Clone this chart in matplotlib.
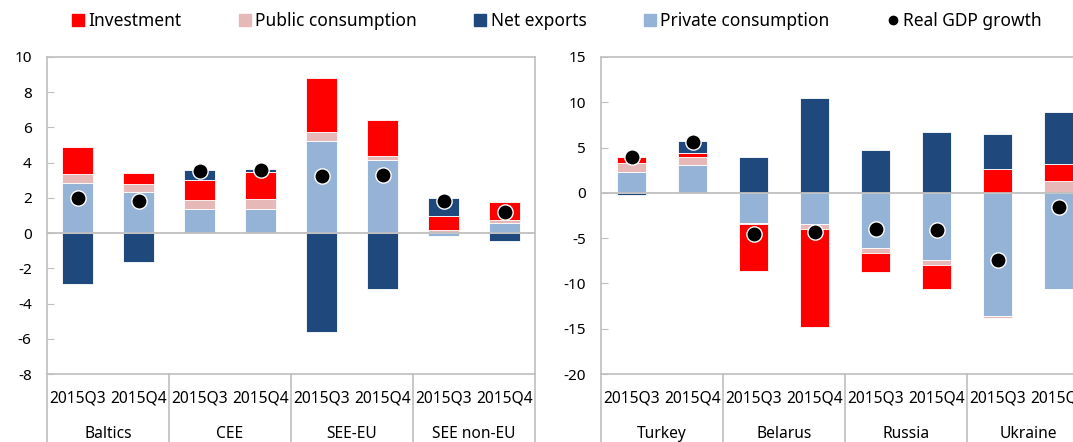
import numpy as np
import matplotlib
matplotlib.use("Agg")
import matplotlib.pyplot as plt
from matplotlib.lines import Line2D
from matplotlib.transforms import blended_transform_factory

plt.rcParams['font.family'] = ['Noto Sans', 'DejaVu Sans']
plt.rcParams['axes.unicode_minus'] = False

# ---------------- data ----------------
quarters = ["2015Q3", "2015Q4"]

left_groups = ["Baltics", "CEE", "SEE-EU", "SEE non-EU"]
left_priv = [2.86, 2.35, 1.38, 1.38, 5.23, 4.15, -0.17, 0.57]
left_pub = [0.47, 0.42, 0.49, 0.57, 0.49, 0.21, 0.15, 0.19]
left_inv = [1.56, 0.62, 1.12, 1.52, 3.07, 2.04, 0.80, 1.00]
left_nx = [-2.90, -1.65, 0.57, 0.18, -5.60, -3.16, 1.04, -0.47]
left_gdp = [2.00, 1.82, 3.52, 3.58, 3.24, 3.30, 1.85, 1.21]

right_groups = ["Turkey", "Belarus", "Russia", "Ukraine"]
right_priv = [2.27, 3.11, -3.37, -3.44, -6.04, -7.40, -13.60, -10.60]
right_pub = [1.03, 0.85, -0.05, -0.59, -0.55, -0.55, -0.25, 1.36]
right_inv = [0.66, 0.40, -5.18, -10.77, -2.13, -2.65, 2.64, 1.79]
right_nx = [-0.26, 1.39, 3.96, 10.44, 4.76, 6.67, 3.84, 5.79]
right_gdp = [3.92, 5.60, -4.58, -4.36, -3.96, -4.07, -7.36, -1.60]

C_INV = "#FF0000"
C_PUB = "#E6B9B8"
C_NX = "#1F497D"
C_PRIV = "#95B3D7"
GRID = "#BFBFBF"

W, H = 1073, 442
fig = plt.figure(figsize=(W / 100, H / 100), dpi=100)


def axpos(x0, x1, y0, y1):
    return [x0 / W, 1 - y1 / H, (x1 - x0) / W, (y1 - y0) / H]


def draw(ax, priv, pub, inv, nx, gdp, groups, ylim, yticks, width):
    n = len(priv)
    x = np.arange(n)
    pos = np.zeros(n)
    neg = np.zeros(n)
    for vals, color in [(priv, C_PRIV), (pub, C_PUB), (inv, C_INV), (nx, C_NX)]:
        v = np.array(vals, dtype=float)
        bottom = np.where(v >= 0, pos, neg)
        ax.bar(x, v, width, bottom=bottom, color=color, edgecolor="white",
               linewidth=0.6, zorder=2)
        pos += np.where(v >= 0, v, 0)
        neg += np.where(v < 0, v, 0)
    ax.axhline(0, color=GRID, lw=1.3, zorder=3)
    ax.plot(x, gdp, ls="none", marker="o", ms=11, mfc="black", mec="white",
            mew=1.0, zorder=4)
    ax.set_xlim(-0.5, n - 0.5)
    ax.set_ylim(*ylim)
    ax.set_yticks(yticks)
    ax.set_xticks([])
    for s in ax.spines.values():
        s.set_color(GRID)
        s.set_linewidth(1.2)
    ax.tick_params(axis="y", direction="in", length=5, color=GRID,
                   labelsize=11, pad=11, labelcolor="black")
    tr = blended_transform_factory(ax.transData, ax.transAxes)
    for i in range(n):
        ax.text(i, -0.076, quarters[i % 2], transform=tr, ha="center",
                va="center", fontsize=11.2, clip_on=False)
    for g, name in enumerate(groups):
        ax.text(2 * g + 0.5, -0.188, name, transform=tr, ha="center",
                va="center", fontsize=11.2, clip_on=False)
    for b in np.arange(-0.5, n, 2):
        ax.plot([b, b], [0, -0.25], transform=tr, color=GRID, lw=1.2,
                clip_on=False)


axL = fig.add_axes(axpos(47, 535, 57, 374))
draw(axL, left_priv, left_pub, left_inv, left_nx, left_gdp, left_groups,
     (-8, 10), np.arange(-8, 11, 2), 0.5)

axR = fig.add_axes(axpos(601, 1089, 57, 374))
draw(axR, right_priv, right_pub, right_inv, right_nx, right_gdp, right_groups,
     (-20, 15), np.arange(-20, 16, 5), 0.47)

handles = [
    Line2D([], [], ls="none", marker="s", ms=9, mfc=C_INV, mec=C_INV),
    Line2D([], [], ls="none", marker="s", ms=9, mfc=C_PUB, mec=C_PUB),
    Line2D([], [], ls="none", marker="s", ms=9, mfc=C_NX, mec=C_NX),
    Line2D([], [], ls="none", marker="s", ms=9, mfc=C_PRIV, mec=C_PRIV),
    Line2D([], [], ls="none", marker="o", ms=6, mfc="black", mec="black"),
]
labels = ["Investment", "Public consumption", "Net exports",
          "Private consumption", "Real GDP growth"]
fig.legend(handles, labels, loc="center", bbox_to_anchor=(0.519, 0.953),
           ncol=5, frameon=False, fontsize=12.5, handlelength=0.7,
           handletextpad=0.25, columnspacing=3.3, borderaxespad=0)

fig.savefig("out.png", dpi=100)
